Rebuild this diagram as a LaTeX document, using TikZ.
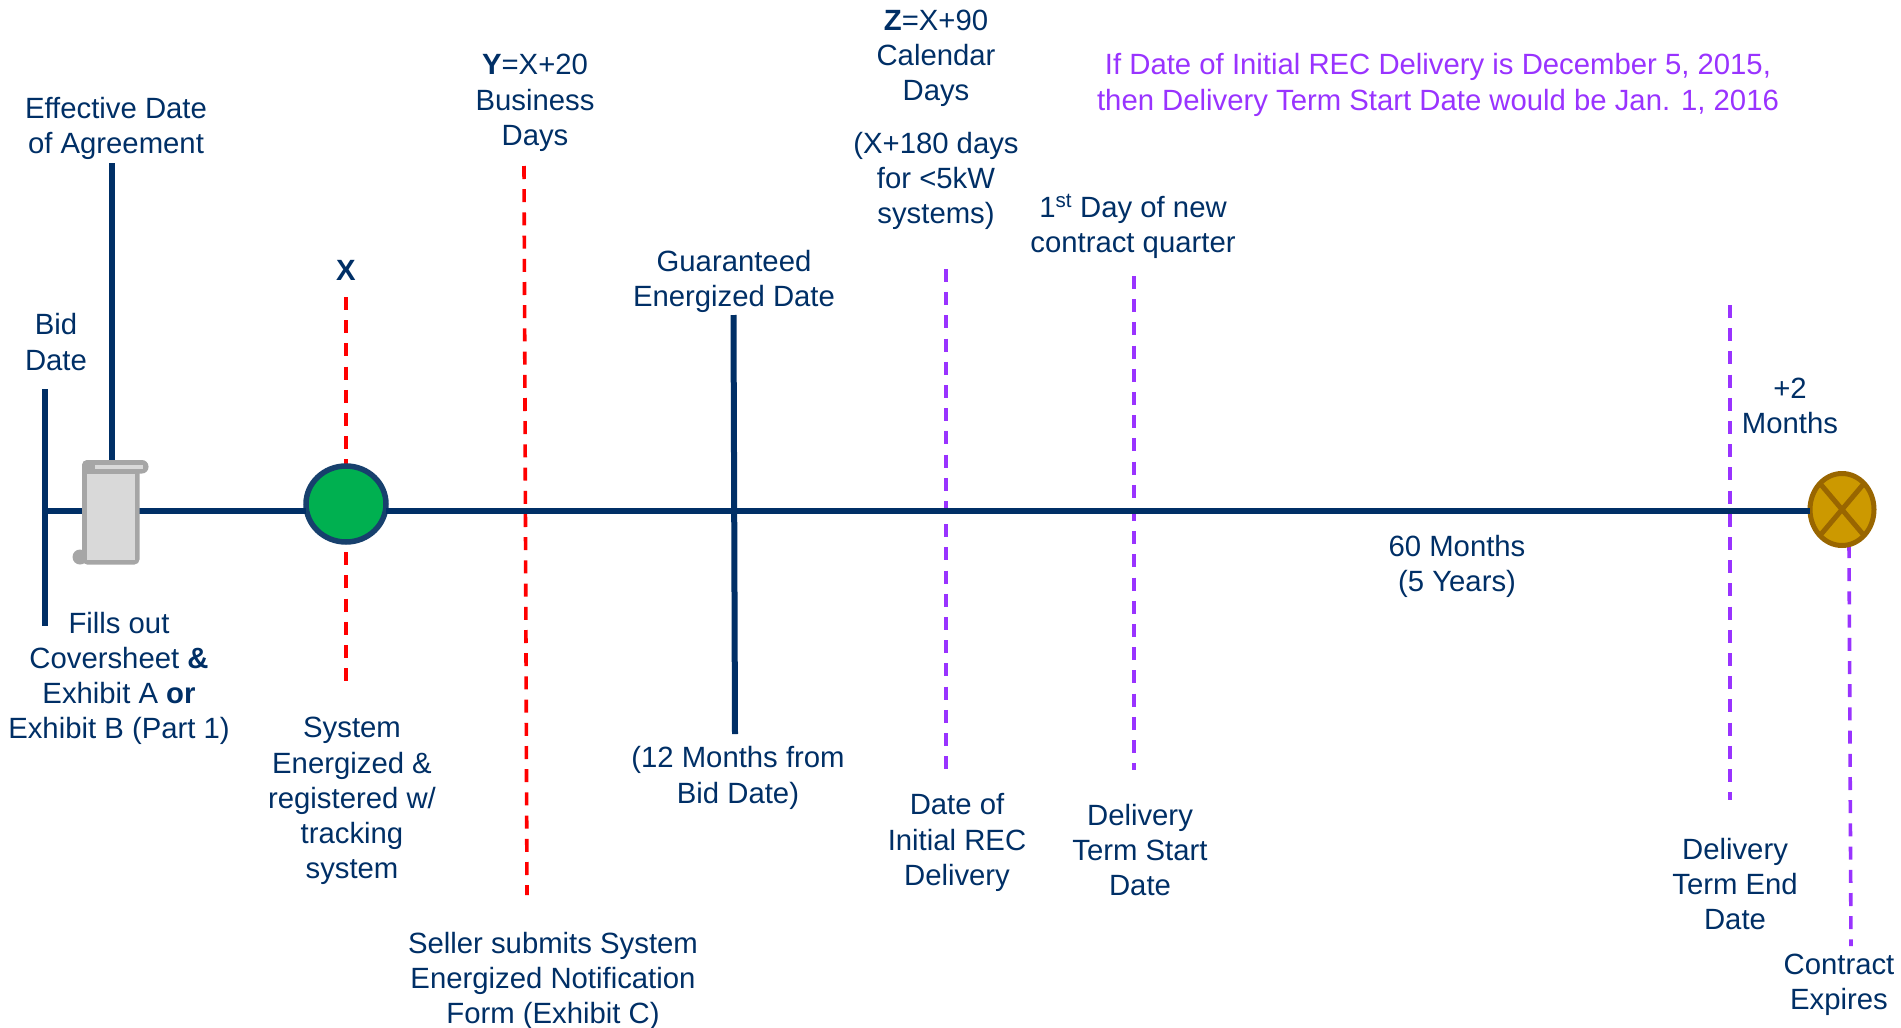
\documentclass[tikz,border=0pt]{standalone}
\usepackage{fontspec}
\usetikzlibrary{shapes.geometric}
\setmainfont{Liberation Sans}
\definecolor{navy}{HTML}{002F66}
\definecolor{ringblue}{HTML}{17406D}
\definecolor{grn}{HTML}{00B050}
\definecolor{purp}{HTML}{9933FF}
\definecolor{gold}{HTML}{CC9900}
\definecolor{golddark}{HTML}{996600}
\definecolor{sgrey}{HTML}{A6A6A6}
\definecolor{sfill}{HTML}{D9D9D9}
\tikzset{
  lbl/.style={align=center,inner sep=0pt,text=navy,font=\fontsize{29.3}{35.2}\selectfont},
  solidline/.style={draw=navy,line width=6pt},
  reddash/.style={draw=red,line width=3.6pt,dash pattern=on 13pt off 10.2pt},
  purpdash/.style={draw=purp,line width=3.6pt,dash pattern=on 13pt off 10.2pt},
  greenring/.style={ellipse,draw=ringblue,fill=grn,line width=5.5pt,minimum width=80pt,minimum height=76pt,inner sep=0pt,outer sep=0pt},
  goldring/.style={ellipse,draw=golddark,fill=gold,line width=5pt,minimum width=64pt,minimum height=72pt,inner sep=0pt,outer sep=0pt},
}
\begin{document}
\begin{tikzpicture}[x=1pt,y=-1pt]
\useasboundingbox (0,0) rectangle (1901,1028);
% connector end points
\coordinate (bidT) at (45,389);
\coordinate (bidB) at (45,626);
\coordinate (effT) at (112,163);
\coordinate (effB) at (112,462);
\coordinate (xT) at (346,297);
\coordinate (xB) at (346,685);
\coordinate (yT) at (524,166);
\coordinate (yB) at (527,895);
\coordinate (gedT) at (733.5,315);
\coordinate (gedB) at (735,734);
\coordinate (zT) at (946,269);
\coordinate (zB) at (946,772);
\coordinate (startT) at (1134,276);
\coordinate (startB) at (1134,770);
\coordinate (endT) at (1730,305);
\coordinate (endB) at (1730,800);
\coordinate (expT) at (1849,545);
\coordinate (expB) at (1851,946);
\coordinate (tlL) at (45,510.5);
% vertical markers
\draw[reddash] (xT) -- (xB);
\draw[reddash] (yT) -- (yB);
\draw[purpdash] (zT) -- (zB);
\draw[purpdash] (startT) -- (startB);
\draw[purpdash] (expT) -- (expB);
% end shapes
\node[greenring] (greenC) at (346,504) {};
\node[goldring] (goldC) at (1842,509.5) {};
\draw[draw=golddark,line width=5pt] (goldC.center) ++(-22,-26) -- ++(44,52);
\draw[draw=golddark,line width=5pt] (goldC.center) ++(22,-26) -- ++(-44,52);
% timeline
\draw[solidline] (tlL) -- (greenC.west |- tlL);
\draw[solidline] (greenC.east |- tlL) -- (goldC.west |- tlL);
\draw[purpdash] (endT) -- (endB);
\draw[solidline] (bidT) -- (bidB);
\draw[solidline] (effT) -- (effB);
\draw[solidline] (gedT) -- (gedB);
% scroll document icon
\fill[sgrey,rounded corners=5pt] (82,460) rectangle (139.5,564.5);
\fill[sgrey,rounded corners=6.5pt] (82,460) rectangle (148.5,473.5);
\fill[sgrey] (80,557) circle [radius=7.5];
\fill[sfill] (87,473.5) rectangle (135,559.5);
\fill[sfill] (95,465) rectangle (143,468.5);
% labels
\node[lbl] (l1) at (116,128.5) {Effective Date\\of Agreement};
\node[lbl] (l2) at (535,103) {\textbf{Y}=X+20\\Business\\Days};
\node[lbl] (l3) at (936,58.5) {\textbf{Z}=X+90\\Calendar\\Days};
\node[lbl] (l4) at (936,181) {(X+180 days\\for <5kW\\systems)};
\node[lbl,text=purp] (l5) at (1438,85) {If Date of Initial REC Delivery is December 5, 2015,\\then Delivery Term Start Date would be Jan. 1, 2016};
\node[lbl] (l6) at (1133,226.5) {1\textsuperscript{st} Day of new\\contract quarter};
\node[lbl] (l7) at (346,270) {\textbf{X}};
\node[lbl] (l8) at (56,342) {Bid\\Date};
\node[lbl] (l9) at (734,281.5) {Guaranteed\\Energized Date};
\node[lbl] (l10) at (1790,406) {+2\\Months};
\node[lbl] (l11) at (1457,566.5) {60 Months\\(5 Years)};
\node[lbl] (l12) at (119,678.5) {Fills out\\Coversheet \textbf{\&}\\Exhibit A \textbf{or}\\Exhibit B (Part 1)};
\node[lbl] (l13) at (352,801) {System\\Energized \&\\registered w/\\tracking\\system};
\node[lbl] (l14) at (738,778) {(12 Months from\\Bid Date)};
\node[lbl] (l15) at (957,842.5) {Date of\\Initial REC\\Delivery};
\node[lbl] (l16) at (1140,850) {Delivery\\Term Start\\Date};
\node[lbl] (l17) at (1735,884) {Delivery\\Term End\\Date};
\node[lbl] (l18) at (1839,984.5) {Contract\\Expires};
\node[lbl] (l19) at (553,981) {Seller submits System\\Energized Notification\\Form (Exhibit C)};
\end{tikzpicture}
\end{document}
